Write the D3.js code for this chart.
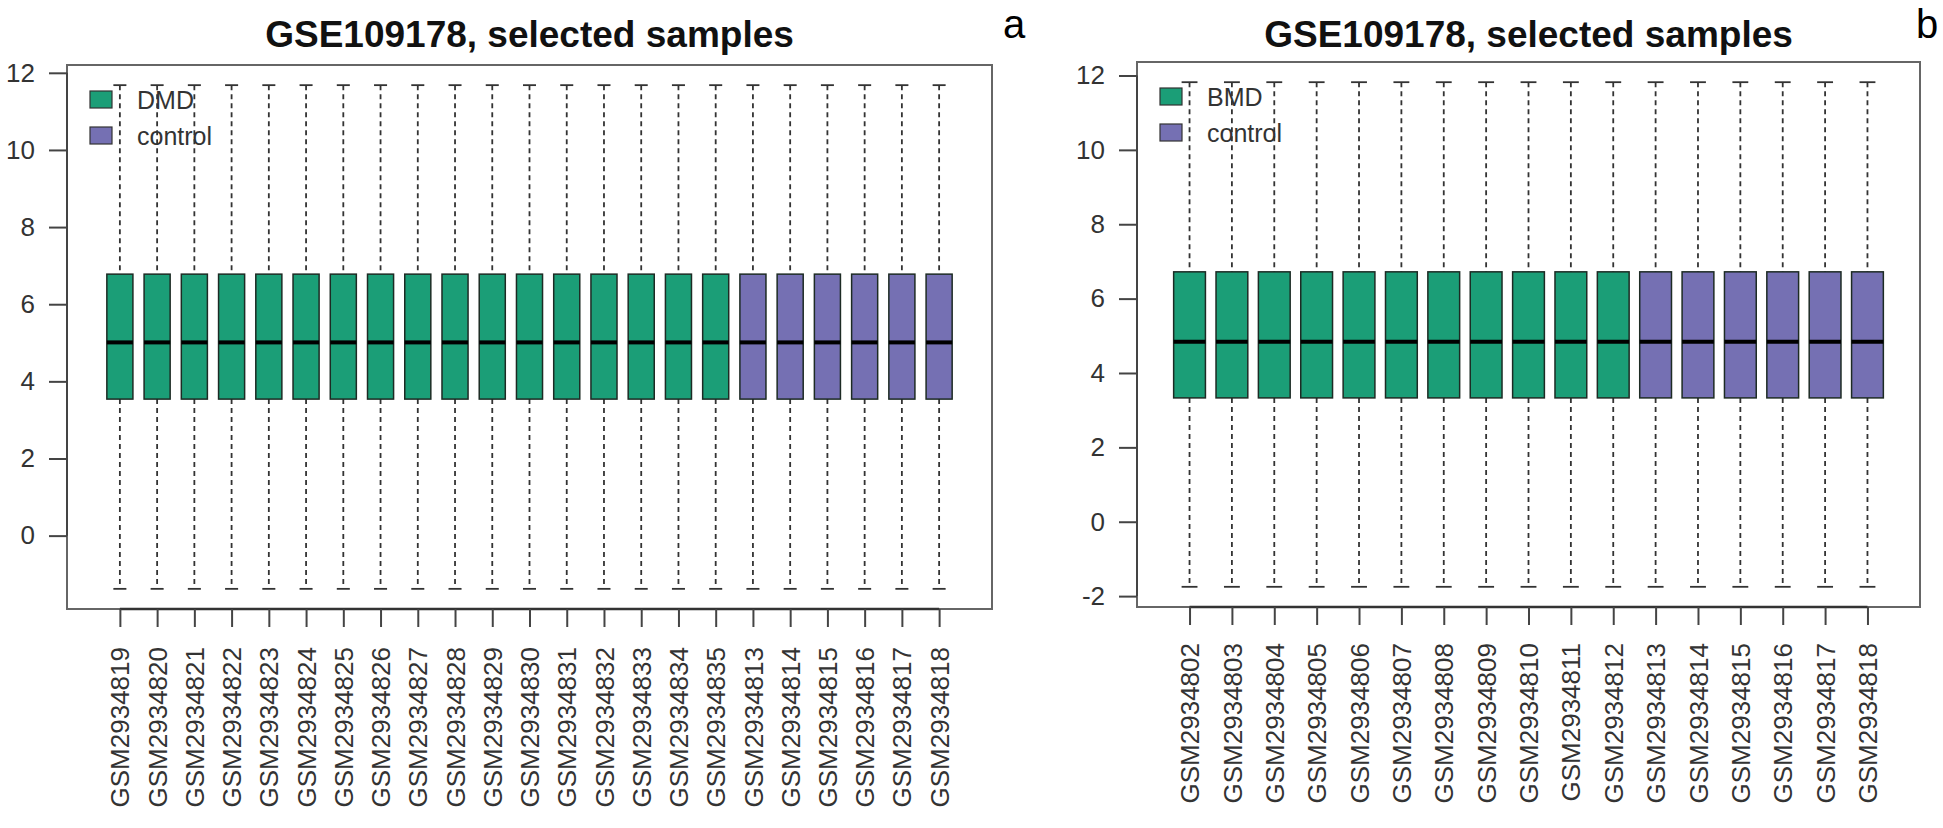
<!DOCTYPE html>
<html><head><meta charset="utf-8">
<script src="https://cdn.jsdelivr.net/npm/d3@7"></script>
<style>body{margin:0;background:#fff}svg{display:block;font-family:"Liberation Sans",Arial,sans-serif}</style>
</head><body>
<svg id="c" width="1943" height="828"></svg>
<script>
// ---- Panel a ----
const samplesA = ["GSM2934819","GSM2934820","GSM2934821","GSM2934822","GSM2934823","GSM2934824","GSM2934825","GSM2934826","GSM2934827","GSM2934828","GSM2934829","GSM2934830","GSM2934831","GSM2934832","GSM2934833","GSM2934834","GSM2934835","GSM2934813","GSM2934814","GSM2934815","GSM2934816","GSM2934817","GSM2934818"];
const groupsA = ["DMD","DMD","DMD","DMD","DMD","DMD","DMD","DMD","DMD","DMD","DMD","DMD","DMD","DMD","DMD","DMD","DMD","control","control","control","control","control","control"];
const lowA    = [-1.38,-1.38,-1.38,-1.38,-1.38,-1.38,-1.38,-1.38,-1.38,-1.38,-1.38,-1.38,-1.38,-1.38,-1.38,-1.38,-1.38,-1.38,-1.38,-1.38,-1.38,-1.38,-1.38];
const q1A     = [3.54,3.54,3.54,3.54,3.54,3.54,3.54,3.54,3.54,3.54,3.54,3.54,3.54,3.54,3.54,3.54,3.54,3.54,3.54,3.54,3.54,3.54,3.54];
const medA    = [5.01,5.01,5.01,5.01,5.01,5.01,5.01,5.01,5.01,5.01,5.01,5.01,5.01,5.01,5.01,5.01,5.01,5.01,5.01,5.01,5.01,5.01,5.01];
const q3A     = [6.78,6.78,6.78,6.78,6.78,6.78,6.78,6.78,6.78,6.78,6.78,6.78,6.78,6.78,6.78,6.78,6.78,6.78,6.78,6.78,6.78,6.78,6.78];
const highA   = [11.68,11.68,11.68,11.68,11.68,11.68,11.68,11.68,11.68,11.68,11.68,11.68,11.68,11.68,11.68,11.68,11.68,11.68,11.68,11.68,11.68,11.68,11.68];
const yTicksA = [0,2,4,6,8,10,12];
const legendA = ["DMD","control"];

// ---- Panel b ----
const samplesB = ["GSM2934802","GSM2934803","GSM2934804","GSM2934805","GSM2934806","GSM2934807","GSM2934808","GSM2934809","GSM2934810","GSM2934811","GSM2934812","GSM2934813","GSM2934814","GSM2934815","GSM2934816","GSM2934817","GSM2934818"];
const groupsB = ["BMD","BMD","BMD","BMD","BMD","BMD","BMD","BMD","BMD","BMD","BMD","control","control","control","control","control","control"];
const lowB    = [-1.75,-1.75,-1.75,-1.75,-1.75,-1.75,-1.75,-1.75,-1.75,-1.75,-1.75,-1.75,-1.75,-1.75,-1.75,-1.75,-1.75];
const q1B     = [3.33,3.33,3.33,3.33,3.33,3.33,3.33,3.33,3.33,3.33,3.33,3.33,3.33,3.33,3.33,3.33,3.33];
const medB    = [4.84,4.84,4.84,4.84,4.84,4.84,4.84,4.84,4.84,4.84,4.84,4.84,4.84,4.84,4.84,4.84,4.84];
const q3B     = [6.72,6.72,6.72,6.72,6.72,6.72,6.72,6.72,6.72,6.72,6.72,6.72,6.72,6.72,6.72,6.72,6.72];
const highB   = [11.82,11.82,11.82,11.82,11.82,11.82,11.82,11.82,11.82,11.82,11.82,11.82,11.82,11.82,11.82,11.82,11.82];
const yTicksB = [-2,0,2,4,6,8,10,12];
const legendB = ["BMD","control"];

const titleText = "GSE109178, selected samples";
const panelLetters = ["a","b"];

const svg = d3.select("#c");
const GREEN = "#1b9e77", PURPLE = "#7570b3";

function panel(cfg){
  const {samples, groups, low, q1, med, q3, high, yTicks, legend, letter, frame, xPad, boxFrac, labelY, letterPos} = cfg;
  const n = samples.length;
  const g = svg.append("g");
  const x = d3.scaleLinear().domain([1 - xPad, n + xPad]).range([frame.l, frame.r]);
  const lo = d3.min(low), hi = d3.max(high), ext = (hi - lo) * 0.04;
  const y = d3.scaleLinear().domain([lo - ext, hi + ext]).range([frame.b, frame.t]);
  const color = d3.scaleOrdinal().domain(legend).range([GREEN, PURPLE]);
  const bw = (x(2) - x(1)) * boxFrac;
  const capW = bw * 0.5;
  const data = samples.map((s,i)=>({s, i:i+1, grp:groups[i], low:low[i], q1:q1[i], med:med[i], q3:q3[i], high:high[i]}));

  const bx = g.selectAll("g.box").data(data).join("g").attr("class","box");
  // whiskers (dashed)
  bx.append("line").attr("x1",d=>x(d.i)).attr("x2",d=>x(d.i)).attr("y1",d=>y(d.high)).attr("y2",d=>y(d.q3))
    .attr("stroke","#333").attr("stroke-width",1.8).attr("stroke-dasharray","5,4");
  bx.append("line").attr("x1",d=>x(d.i)).attr("x2",d=>x(d.i)).attr("y1",d=>y(d.q1)).attr("y2",d=>y(d.low))
    .attr("stroke","#333").attr("stroke-width",1.8).attr("stroke-dasharray","5,4");
  // caps
  bx.append("line").attr("x1",d=>x(d.i)-capW/2).attr("x2",d=>x(d.i)+capW/2).attr("y1",d=>y(d.high)).attr("y2",d=>y(d.high))
    .attr("stroke","#333").attr("stroke-width",1.8);
  bx.append("line").attr("x1",d=>x(d.i)-capW/2).attr("x2",d=>x(d.i)+capW/2).attr("y1",d=>y(d.low)).attr("y2",d=>y(d.low))
    .attr("stroke","#333").attr("stroke-width",1.8);
  // boxes
  bx.append("rect").attr("x",d=>x(d.i)-bw/2).attr("width",bw).attr("y",d=>y(d.q3)).attr("height",d=>y(d.q1)-y(d.q3))
    .attr("fill",d=>color(d.grp)).attr("stroke","#1d2b24").attr("stroke-width",1.5);
  // medians
  bx.append("line").attr("x1",d=>x(d.i)-bw/2).attr("x2",d=>x(d.i)+bw/2).attr("y1",d=>y(d.med)).attr("y2",d=>y(d.med))
    .attr("stroke","#000").attr("stroke-width",4);

  // frame
  g.append("rect").attr("x",frame.l).attr("y",frame.t).attr("width",frame.r-frame.l).attr("height",frame.b-frame.t)
    .attr("fill","none").attr("stroke","#666").attr("stroke-width",2);

  // y axis
  const ya = d3.axisLeft(y).tickValues(yTicks).tickSize(18).tickPadding(14).tickFormat(d=>String(d));
  const yg = g.append("g").attr("transform",`translate(${frame.l},0)`).call(ya);
  yg.select(".domain").attr("stroke","#444").attr("stroke-width",2).attr("d",`M0,${y(yTicks[0])}V${y(yTicks[yTicks.length-1])}`);
  yg.selectAll(".tick line").attr("stroke","#444").attr("stroke-width",2);
  yg.selectAll(".tick text").attr("font-size",26).attr("fill","#333").attr("font-family","Liberation Sans, Arial, sans-serif");

  // x axis
  const xa = d3.axisBottom(x).tickValues(d3.range(1,n+1)).tickSize(18).tickFormat(d=>samples[d-1]);
  const xg = g.append("g").attr("transform",`translate(0,${frame.b})`).call(xa);
  xg.select(".domain").attr("stroke","#333").attr("stroke-width",2.5).attr("d",`M${x(1)},0H${x(n)}`);
  xg.selectAll(".tick line").attr("stroke","#444").attr("stroke-width",2);
  xg.selectAll(".tick text").attr("font-size",26).attr("fill","#333").attr("font-family","Liberation Sans, Arial, sans-serif")
    .attr("transform",`translate(0,${labelY - frame.b}) rotate(-90)`).attr("x",0).attr("y",0).attr("dy","0.35em")
    .attr("text-anchor","end");

  // title
  g.append("text").attr("x",(frame.l+frame.r)/2).attr("y",47).attr("text-anchor","middle")
    .attr("font-size",37).attr("font-weight","bold").attr("fill","#111").text(titleText);
  // panel letter
  g.append("text").attr("x",letterPos[0]).attr("y",letterPos[1]).attr("font-size",40).attr("fill","#000").text(letter);

  // legend
  const lg = g.append("g").attr("transform",`translate(${frame.l+23},${frame.t+26})`);
  const li = lg.selectAll("g").data(legend).join("g").attr("transform",(d,i)=>`translate(0,${i*36})`);
  li.append("rect").attr("width",22).attr("height",17).attr("fill",d=>color(d)).attr("stroke","#333").attr("stroke-width",1.2);
  li.append("text").attr("x",47).attr("y",9).attr("dy","0.35em").attr("font-size",25).attr("fill","#333").text(d=>d);
}

panel({samples:samplesA, groups:groupsA, low:lowA, q1:q1A, med:medA, q3:q3A, high:highA, yTicks:yTicksA, legend:legendA,
  letter:panelLetters[0], frame:{l:67,r:992,t:65,b:609}, xPad:1.42, boxFrac:0.7, labelY:647, letterPos:[1003,38]});
panel({samples:samplesB, groups:groupsB, low:lowB, q1:q1B, med:medB, q3:q3B, high:highB, yTicks:yTicksB, legend:legendB,
  letter:panelLetters[1], frame:{l:1137,r:1920,t:62,b:607}, xPad:1.24, boxFrac:0.75, labelY:643, letterPos:[1916,38]});
</script>
</body></html>
